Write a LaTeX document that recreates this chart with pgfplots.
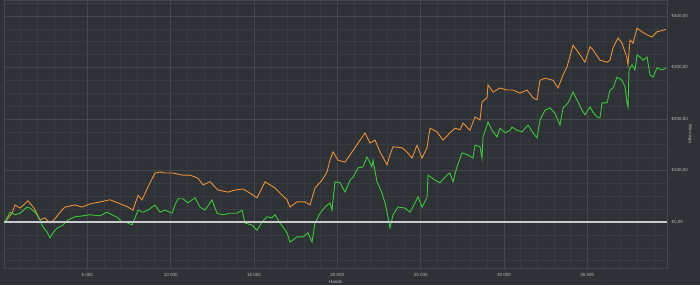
\documentclass[border=0pt]{standalone}
\usepackage{fontspec}
\setmainfont{Liberation Sans}
\usepackage{pgfplots}
\pgfplotsset{compat=1.18}
\definecolor{bg}{HTML}{2E3135}
\definecolor{gridminor}{HTML}{383B40}
\definecolor{gridmajor}{HTML}{44484D}
\definecolor{orangeS}{HTML}{E8913A}
\definecolor{greenS}{HTML}{3CC83C}
\definecolor{txt}{HTML}{B8BBBE}
\definecolor{zeroline}{HTML}{C8CACC}
\begin{document}
\begin{tikzpicture}
\useasboundingbox (-4pt,-17pt) rectangle (696pt,268pt);
\fill[bg] (-4pt,-17pt) rectangle (696pt,268pt);
\begin{axis}[
  at={(0,0)}, anchor=south west,
  scale only axis, width=663pt, height=268pt,
  xmin=0, xmax=39780, ymin=-89.3, ymax=430.7,
  axis line style={gridmajor, line width=0.6pt},
  xtick={5000,10000,...,35000},
  xticklabels={5 000,10 000,15 000,20 000,25 000,30 000,35 000},
  ytick={0,100,200,300,400},
  yticklabels={{€0,00},{€100,00},{€200,00},{€300,00},{€400,00}},
  minor xtick={1000,2000,...,39000},
  minor ytick={-75,-50,-25,25,50,75,125,150,175,225,250,275,325,350,375,425},
  grid=both,
  major grid style={gridmajor, line width=0.5pt},
  minor grid style={gridminor, line width=0.4pt},
  tick style={draw=none},
  major tick length=0pt, minor tick length=0pt,
  ticklabel style={font=\fontsize{4.5}{5}\selectfont, text=txt},
  yticklabel pos=right,
  yticklabel style={anchor=west, xshift=1pt},
  xticklabel style={yshift=-1.5pt},
  xlabel={Hands},
  xlabel style={at={(axis description cs:0.5,-0.05)}, anchor=center, font=\fontsize{4.5}{5}\selectfont, text=txt},
  ylabel={Winnings},
  ylabel style={at={(axis description cs:1.0347,0.5)}, anchor=center, rotate=180, font=\fontsize{4.5}{5}\selectfont, text=txt},
]
\addplot[orangeS, line width=0.9pt] coordinates {
(60,0) (480,17) (660,33) (960,27) (1440,41) (1800,27) (2160,4) (2460,8) (2760,-2) (3060,6)
(3360,19) (3660,29) (4260,33) (4680,29) (5160,35) (5760,39) (6360,43) (6840,37) (7440,29) (7740,23)
(8040,52) (8280,43) (8640,68) (9060,95) (9360,97) (9660,95) (10140,95) (10680,91) (11160,91) (11640,85)
(11940,72) (12360,78) (12840,62) (13440,58) (13860,62) (14340,64) (14760,56) (15180,47) (15660,78) (16260,66)
(16560,56) (16980,43) (17160,29) (17580,39) (18060,39) (18360,33) (18660,66) (19080,81) (19380,97) (19560,120)
(19740,136) (20040,120) (20460,116) (20760,130) (21240,153) (21660,173) (21960,153) (22260,159) (22560,136) (22980,111)
(23160,130) (23340,146) (23880,144) (24180,136) (24480,124) (24780,149) (25080,124) (25380,144) (25560,182) (25980,175)
(26340,159) (26760,173) (27060,182) (27360,179) (27540,192) (27960,178) (28260,204) (28560,198) (28680,233) (28980,241)
(29040,266) (29340,252) (29760,260) (30180,256) (30540,256) (30960,250) (31380,256) (31740,241) (31980,237) (32160,275)
(32460,279) (32940,275) (33240,260) (33540,285) (33780,301) (34140,343) (34440,330) (34860,310) (35160,340) (35340,334)
(35760,314) (36180,310) (36360,314) (36540,338) (36840,357) (37080,347) (37380,318) (37440,305) (37560,353) (37740,347)
(37980,376) (38280,369) (38580,363) (38880,359) (39180,369) (39540,372) (39720,374)
};
\addplot[greenS, line width=0.9pt] coordinates {
(60,0) (360,19) (480,17) (660,14) (960,17) (1380,29) (1560,27) (1860,19) (2160,4) (2340,-10)
(2580,-19) (2760,-31) (2940,-21) (3180,-12) (3540,-6) (3840,4) (4260,10) (4740,12) (5160,14) (5760,12)
(6180,19) (6480,14) (6840,8) (7080,0) (7440,-2) (7680,-6) (7860,8) (8040,23) (8340,19) (8640,23)
(9060,33) (9360,19) (9660,23) (10080,17) (10260,33) (10440,45) (10740,45) (11040,37) (11460,47) (11760,29)
(12060,23) (12480,43) (12780,17) (13140,14) (13560,17) (13980,17) (14280,23) (14460,-2) (14880,-6) (15180,-16)
(15480,0) (15780,10) (16080,8) (16260,14) (16560,-2) (16980,-21) (17160,-39) (17580,-29) (17940,-29) (18240,-21)
(18480,-39) (18660,-2) (18960,17) (19260,29) (19560,37) (19680,23) (19860,78) (20160,76) (20460,58) (20760,81)
(20940,87) (21240,105) (21540,107) (21780,126) (22080,107) (22140,120) (22380,78) (22680,56) (22860,37) (23040,10)
(23160,-12) (23340,14) (23640,29) (24060,27) (24360,19) (24660,37) (24840,49) (25080,29) (25380,47) (25440,91)
(25860,81) (26160,76) (26580,91) (26760,95) (26940,78) (27180,107) (27480,134) (27840,130) (28140,124) (28260,149)
(28560,146) (28680,124) (28740,165) (29040,194) (29280,178) (29580,165) (29760,182) (30060,173) (30360,178) (30480,184)
(30780,178) (31080,175) (31440,188) (31740,173) (31980,163) (32160,198) (32460,217) (32760,221) (33060,211) (33360,188)
(33540,221) (33840,231) (34140,252) (34380,237) (34680,217) (34860,208) (35160,223) (35340,213) (35580,204) (35760,202)
(35880,231) (36180,231) (36360,256) (36540,260) (36780,281) (37080,275) (37260,262) (37380,231) (37440,223) (37500,295)
(37680,305) (37860,295) (37980,324) (38160,320) (38340,314) (38580,320) (38760,285) (38940,281) (39180,299) (39480,295)
(39720,299)
};
\addplot[zeroline, line width=1.6pt] coordinates {(0,0) (39780,0)};
\end{axis}
\end{tikzpicture}
\end{document}
